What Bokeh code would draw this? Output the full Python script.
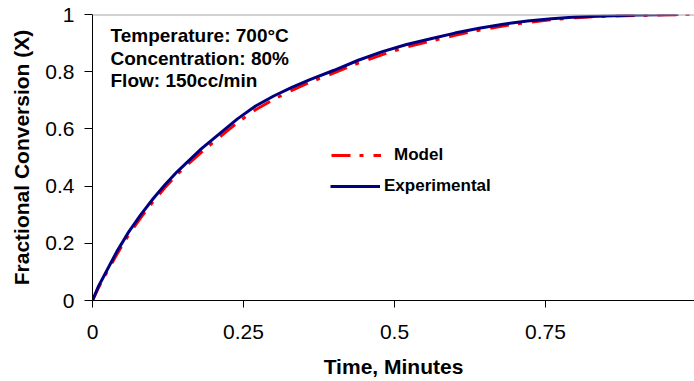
from bokeh.plotting import figure
from bokeh.models import (FixedTicker, Span, Label, Legend, LegendItem, Range1d)
from bokeh.embed import file_html
from bokeh.resources import INLINE

# ---- data ----
exp_t = [0, 0.01, 0.02, 0.04, 0.06, 0.08, 0.10, 0.12, 0.14, 0.16, 0.18, 0.20, 0.22, 0.24,
         0.27, 0.30, 0.33, 0.36, 0.40, 0.44, 0.48, 0.52, 0.56, 0.60, 0.64, 0.68, 0.72,
         0.76, 0.80, 0.85, 0.90, 0.97]
exp_x = [0, 0.05, 0.09, 0.17, 0.24, 0.30, 0.355, 0.405, 0.45, 0.49, 0.53, 0.565, 0.60, 0.635,
         0.68, 0.715, 0.745, 0.772, 0.805, 0.84, 0.87, 0.895, 0.915, 0.935, 0.952, 0.966, 0.977,
         0.985, 0.991, 0.995, 0.998, 1.0]

model_t = [0, 0.01, 0.02, 0.04, 0.06, 0.08, 0.10, 0.12, 0.14, 0.16, 0.18, 0.20, 0.22, 0.24,
           0.27, 0.30, 0.33, 0.36, 0.40, 0.44, 0.48, 0.52, 0.56, 0.60, 0.64, 0.68, 0.72,
           0.76, 0.80, 0.85, 0.90, 0.95, 0.995]
model_x = [0, 0.045, 0.085, 0.16, 0.23, 0.29, 0.345, 0.395, 0.44, 0.48, 0.518, 0.553, 0.588, 0.622,
           0.667, 0.703, 0.735, 0.763, 0.796, 0.83, 0.86, 0.886, 0.907, 0.927, 0.945, 0.96, 0.972,
           0.982, 0.989, 0.994, 0.997, 0.999, 1.0]

x_ticks = [0, 0.25, 0.5, 0.75, 1]
x_tick_labels = ["0", "0.25", "0.5", "0.75", "1"]
y_ticks = [0, 0.2, 0.4, 0.6, 0.8, 1]
y_tick_labels = ["0", "0.2", "0.4", "0.6", "0.8", "1"]

conditions = ["Temperature: 700\u00b0C", "Concentration: 80%", "Flow: 150cc/min"]
series_names = ["Model", "Experimental"]

FONT = "Liberation Sans"

p = figure(width=694, height=381, output_backend="svg", toolbar_location=None,
           x_range=Range1d(0, 0.9967), y_range=Range1d(0, 1),
           min_border_left=92, min_border_right=0, min_border_top=14, min_border_bottom=81)
p.outline_line_color = None
p.xgrid.visible = False
p.ygrid.visible = False
p.background_fill_color = "white"
p.border_fill_color = "white"

for ax in (p.xaxis[0], p.yaxis[0]):
    ax.axis_line_color = "black"
    ax.axis_line_width = 1
    ax.major_tick_line_color = "black"
    ax.minor_tick_line_color = None
    ax.major_tick_in = 0
    ax.major_label_text_font = FONT
    ax.major_label_text_font_size = "21px"
    ax.major_label_text_color = "black"
    ax.axis_label_text_font = FONT
    ax.axis_label_text_font_size = "21px"
    ax.axis_label_text_font_style = "bold"
    ax.axis_label_text_color = "black"

p.xaxis.ticker = FixedTicker(ticks=x_ticks)
p.xaxis.major_label_overrides = {t: l for t, l in zip(x_ticks, x_tick_labels)}
p.xaxis.major_tick_out = 7
p.xaxis.major_label_standoff = 17
p.xaxis.axis_label = "Time, Minutes"
p.xaxis.axis_label_standoff = 13

p.yaxis.ticker = FixedTicker(ticks=y_ticks)
p.yaxis.major_label_overrides = {t: l for t, l in zip(y_ticks, y_tick_labels)}
p.yaxis.major_tick_out = 8
p.yaxis.major_label_standoff = 10
p.yaxis.axis_label = "Fractional Conversion (X)"
p.yaxis.axis_label_standoff = 9

p.add_layout(Span(location=1, dimension="width", line_color="#a6a6a6", line_width=2))

r_model = p.line(model_t, model_x, line_color="#ff0000", line_width=3, line_dash="19 9 4 10")
r_exp = p.line(exp_t, exp_x, line_color="#000080", line_width=3)

leg_common = dict(padding=0, margin=0, spacing=0, border_line_alpha=0, background_fill_alpha=0,
                  glyph_width=50, glyph_height=20, label_text_font=FONT,
                  label_text_font_size="17px", label_text_font_style="bold",
                  label_text_color="black", label_height=20)
leg1 = Legend(items=[LegendItem(label=series_names[0], renderers=[r_model])],
              location=(239, 135), label_standoff=13, **leg_common)
leg2 = Legend(items=[LegendItem(label=series_names[1], renderers=[r_exp])],
              location=(238, 104), label_standoff=4, **leg_common)
p.add_layout(leg1)
p.add_layout(leg2)

for i, txt in enumerate(conditions):
    p.add_layout(Label(x=18, y=265 - 22.5 * i, x_units="screen", y_units="screen", text=txt,
                       text_font=FONT, text_font_size="19px", text_font_style="bold",
                       text_color="black", text_baseline="middle"))

open("out.html", "w").write(file_html(p, INLINE))
